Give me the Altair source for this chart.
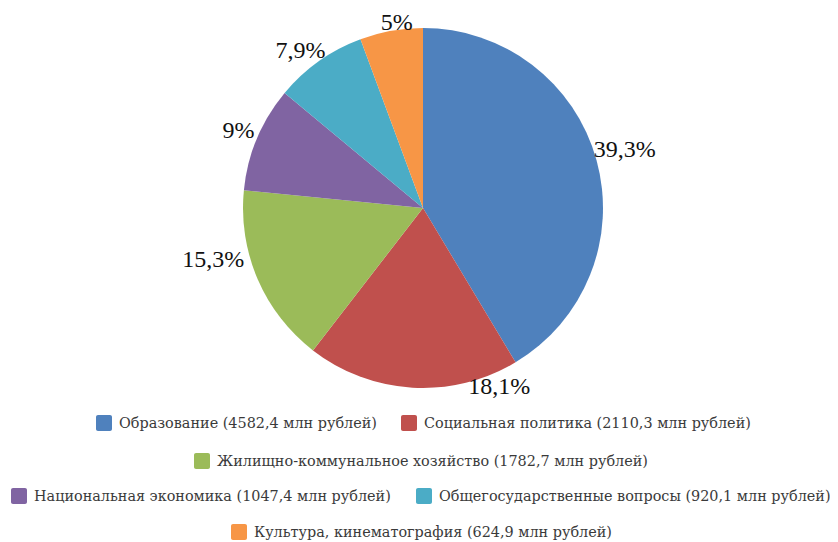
import altair as alt
import pandas as pd

# ---- data ----
categories = [
    "Образование",
    "Социальная политика",
    "Жилищно-коммунальное хозяйство",
    "Национальная экономика",
    "Общегосударственные вопросы",
    "Культура, кинематография",
]
values = [4582.4, 2110.3, 1782.7, 1047.4, 920.1, 624.9]
pct_labels = ["39,3%", "18,1%", "15,3%", "9%", "7,9%", "5%"]
colors = ["#4F81BD", "#C0504D", "#9BBB59", "#8064A2", "#4BACC6", "#F79646"]

# ---- layout (pixels in chart coordinates) ----
CX, CY, R = 415, 200, 180
LABEL_R = 200
label_nudge = [(9, -5), (88, -21), (-26, -27), (0, 0), (-7, 6), (9, 12)]
legend_row = [0, 0, 1, 2, 2, 3]
legend_row_y = [415, 453, 488, 524]
legend_sq_left = [88, 393, 186, 3, 408, 223]
SQ = 16

total = sum(values)
starts, ends = [], []
acc = 0.0
for v in values:
    starts.append(acc / total)
    acc += v
    ends.append(acc / total)

df = pd.DataFrame({
    "idx": list(range(len(categories))),
    "cat": categories,
    "value": values,
    "pct": pct_labels,
    "start": starts,
    "end": ends,
    "mid": [(s + e) / 2 for s, e in zip(starts, ends)],
})

leg = pd.DataFrame({
    "cat": categories,
    "label": [f"{c} ({str(v).replace('.', ',')} млн рублей)" for c, v in zip(categories, values)],
    "sq_x": [x + SQ / 2 for x in legend_sq_left],
    "tx": [x + SQ + 7 for x in legend_sq_left],
    "y": [legend_row_y[r] for r in legend_row],
})

theta_scale = alt.Scale(domain=[0, 1], range=[0, 6.283185307])
color_scale = alt.Scale(domain=categories, range=colors)

base = alt.Chart(df)

pie = base.mark_arc(radius=R, stroke=None).encode(
    theta=alt.Theta("start:Q", scale=theta_scale),
    theta2="end:Q",
    color=alt.Color("cat:N", scale=color_scale, legend=None),
    x=alt.value(CX),
    y=alt.value(CY),
)

SERIF = "Times New Roman"

label_layers = []
for i in range(len(categories)):
    dx, dy = label_nudge[i]
    label_layers.append(
        base.transform_filter(alt.datum.idx == i).mark_text(
            radius=LABEL_R, dx=dx, dy=dy, font=SERIF, fontSize=24,
            color="#111111", baseline="middle", align="center",
        ).encode(
            theta=alt.Theta("mid:Q", scale=theta_scale),
            text="pct:N",
            x=alt.value(CX),
            y=alt.value(CY),
        )
    )

lbase = alt.Chart(leg)
leg_sq = lbase.mark_rect(width=SQ, height=SQ, cornerRadius=2).encode(
    x=alt.X("sq_x:Q", scale=None, axis=None),
    y=alt.Y("y:Q", scale=None, axis=None),
    color=alt.Color("cat:N", scale=color_scale, legend=None),
)
leg_tx = lbase.mark_text(
    align="left", baseline="middle", font="DejaVu Serif", fontSize=14.4,
    color="#3a3a3a", dy=1,
).encode(
    x=alt.X("tx:Q", scale=None, axis=None),
    y=alt.Y("y:Q", scale=None, axis=None),
    text="label:N",
)

chart = alt.layer(pie, *label_layers, leg_sq, leg_tx).properties(
    width=822, height=534, padding=0, autosize="none"
).configure_view(stroke=None)

chart.save("out.html", embed_options={"renderer": "svg", "actions": False})
